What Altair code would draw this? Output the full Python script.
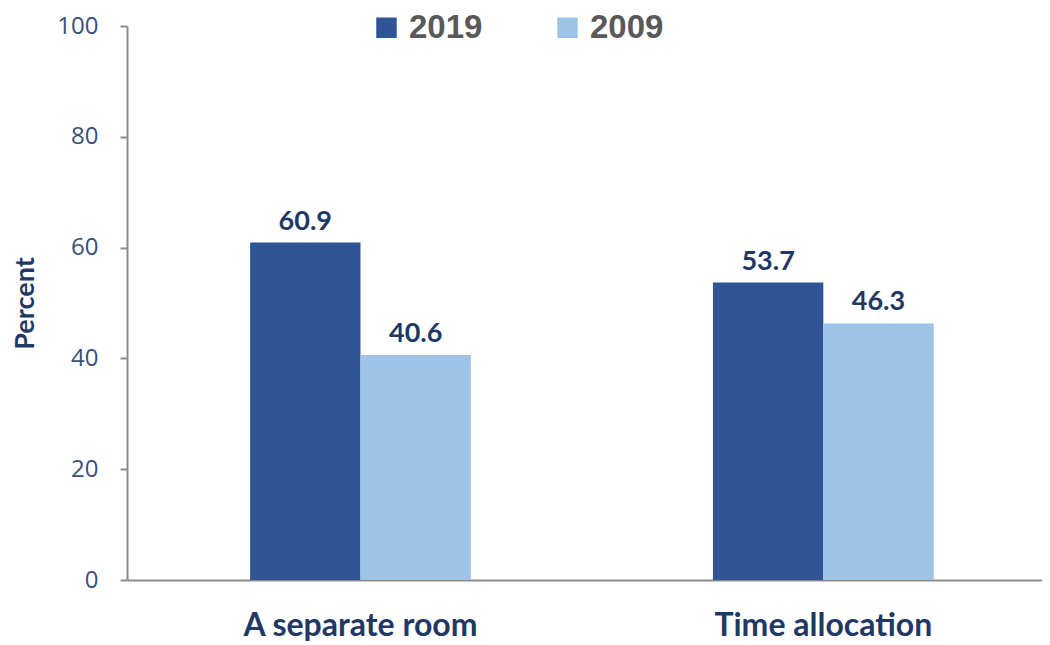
import altair as alt
import pandas as pd

categories = ["A separate room", "Time allocation"]
years = ["2019", "2009"]
values_2019 = [60.9, 53.7]
values_2009 = [40.6, 46.3]
y_ticks = [0, 20, 40, 60, 80, 100]
colors = ["#2F5597", "#9DC3E6"]

rows = []
for i, c in enumerate(categories):
    rows.append({"category": c, "year": "2019", "value": values_2019[i]})
    rows.append({"category": c, "year": "2009", "value": values_2009[i]})
df = pd.DataFrame(rows)

x = alt.X("category:N", sort=categories,
          scale=alt.Scale(paddingInner=0.523, paddingOuter=0.25, align=0.532),
          axis=alt.Axis(title=None, labelAngle=0, ticks=False, domainColor="#8C8C8C",
                        domainWidth=2, labelFont="Lato", labelFontWeight="bold",
                        labelFontSize=32, labelColor="#1F3864", labelPadding=30,
                        labelLimit=0))
xoff = alt.XOffset("year:N", sort=years,
                   scale=alt.Scale(paddingInner=0, paddingOuter=0))
y = alt.Y("value:Q", scale=alt.Scale(domain=[0, 100], nice=False),
          axis=alt.Axis(title="Percent", values=y_ticks, grid=False, tickSize=7,
                        tickColor="#8C8C8C", domainColor="#8C8C8C", tickWidth=2,
                        domainWidth=2,
                        labelFont="Open Sans", labelFontSize=24, labelColor="#3A4F7A",
                        labelPadding=22, titleFont="Lato", titleFontWeight="bold",
                        titleFontSize=27, titleColor="#1F3864", titlePadding=17))
color = alt.Color("year:N", scale=alt.Scale(domain=years, range=colors),
                  legend=alt.Legend(orient="none", legendX=243, legendY=-15,
                                    direction="horizontal", title=None,
                                    symbolType="square", symbolSize=420,
                                    symbolStrokeWidth=0, symbolOpacity=1,
                                    labelFont="Liberation Sans", labelFontWeight="bold",
                                    labelFontSize=33, labelColor="#595959",
                                    labelOffset=6, columnPadding=68, padding=0))

bars = alt.Chart(df).mark_bar().encode(x=x, xOffset=xoff, y=y, color=color)
labels = alt.Chart(df).mark_text(font="Lato", fontWeight="bold", fontSize=27,
                                 color="#1F3864", baseline="alphabetic", dy=-13).encode(
    x=x, xOffset=xoff, y=y, text=alt.Text("value:Q", format=".1f"))

chart = (bars + labels).properties(
    width=915, height=554,
    padding={"left": 119, "top": 18, "right": 0, "bottom": 62},
    autosize=alt.AutoSizeParams(type="none"),
).configure_view(stroke=None)

chart.save("out.html", embed_options={"renderer": "svg", "actions": False})
